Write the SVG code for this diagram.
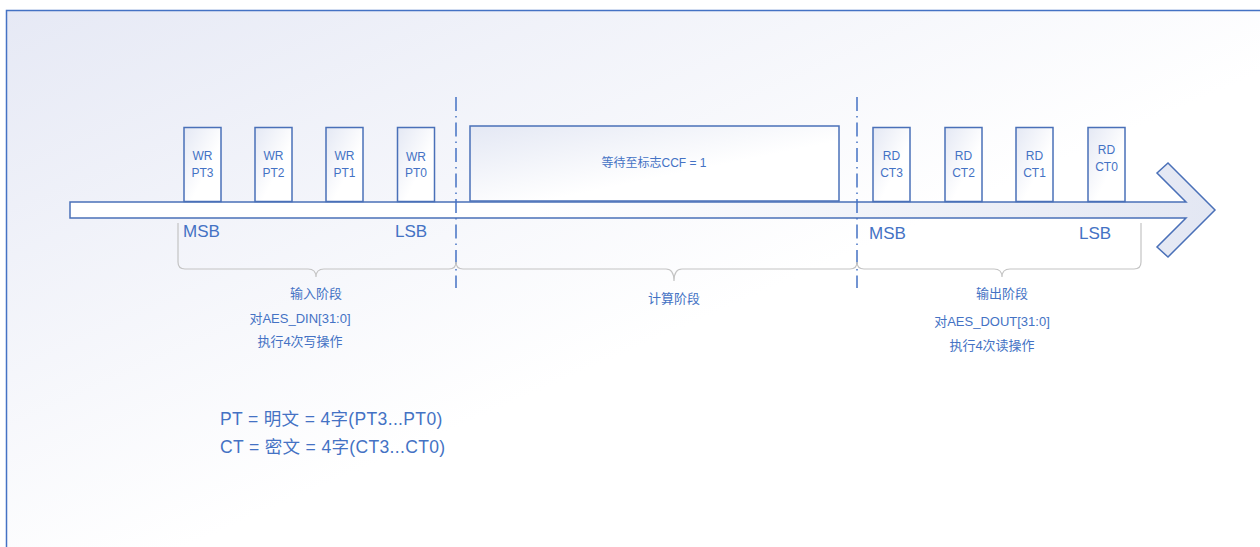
<svg xmlns="http://www.w3.org/2000/svg" width="1260" height="547" viewBox="0 0 1260 547">
<style>
.t{font-family:"Liberation Sans","Noto Sans CJK SC",sans-serif;fill:#4472C4;}
.bx{stroke:#4A70B8;stroke-width:1.5;fill:url(#boxg);}
.s12{font-size:12px;text-anchor:middle;}
.s13{font-size:13px;text-anchor:middle;}
.s17{font-size:17px;}
.lg{font-size:17.5px;letter-spacing:0.35px;}
.brace{fill:none;stroke:#C4C4C4;stroke-width:1.2;}
.dash{stroke:#4472C4;stroke-width:1.5;stroke-dasharray:14 5 1.5 5;fill:none;}
</style>
<defs>
<linearGradient id="bg" x1="0" y1="0" x2="1" y2="1">
<stop offset="0" stop-color="#E6E9F5"/>
<stop offset="0.55" stop-color="#FFFFFF"/>
<stop offset="1" stop-color="#FFFFFF"/>
</linearGradient>
<linearGradient id="boxg" x1="0" y1="0" x2="1" y2="1">
<stop offset="0" stop-color="#E4E8F4"/>
<stop offset="0.6" stop-color="#FFFFFF"/>
</linearGradient>
<linearGradient id="arrg" x1="70" y1="0" x2="1215" y2="0" gradientUnits="userSpaceOnUse">
<stop offset="0" stop-color="#FFFFFF"/>
<stop offset="0.4" stop-color="#FFFFFF"/>
<stop offset="1" stop-color="#E3E7F3"/>
</linearGradient>
</defs>
<rect x="6.5" y="10.5" width="1270" height="560" fill="url(#bg)" stroke="#4472C4" stroke-width="1.5"/>
<g id="timeline">
<polygon points="70,202 1186,202 1157,173 1168,163 1215,210 1168,257 1157,247 1186,218 70,218" fill="url(#arrg)" stroke="#4A70B8" stroke-width="1.5"/>
</g>
<g id="connectors">
<line class="dash" x1="456" y1="97" x2="456" y2="288"/>
<line class="dash" x1="857" y1="97" x2="857" y2="288"/>
<path class="brace" d="M178,223 V262 Q178,269 185,269 H308 Q316,269 316,277 Q316,269 324,269 H449 Q456,269 456,262"/>
<path class="brace" d="M456,262 Q456,269 463,269 H666 Q674,269 674,281 Q674,269 682,269 H850 Q857,269 857,262"/>
<path class="brace" d="M857,262 Q857,269 864,269 H994 Q1002,269 1002,277 Q1002,269 1010,269 H1134 Q1141,269 1141,262 V223"/>
</g>
<g id="wr-pt3"><rect class="bx" x="184" y="127.5" width="37" height="74"/><text class="t s12" x="202.5" y="160">WR</text><text class="t s12" x="202.5" y="177">PT3</text></g>
<g id="wr-pt2"><rect class="bx" x="255" y="127.5" width="37" height="74"/><text class="t s12" x="273.5" y="160">WR</text><text class="t s12" x="273.5" y="177">PT2</text></g>
<g id="wr-pt1"><rect class="bx" x="326" y="127.5" width="37" height="74"/><text class="t s12" x="344.5" y="160">WR</text><text class="t s12" x="344.5" y="177">PT1</text></g>
<g id="wr-pt0"><rect class="bx" x="397.5" y="127.5" width="37" height="74"/><text class="t s12" x="416" y="161">WR</text><text class="t s12" x="416" y="177">PT0</text></g>
<g id="wait"><rect class="bx" x="470" y="126" width="369" height="75"/><text class="t s12" x="654" y="167">等待至标志CCF = 1</text></g>
<g id="rd-ct3"><rect class="bx" x="873" y="127.5" width="37" height="74"/><text class="t s12" x="891.5" y="160">RD</text><text class="t s12" x="891.5" y="177">CT3</text></g>
<g id="rd-ct2"><rect class="bx" x="945" y="127.5" width="37" height="74"/><text class="t s12" x="963.5" y="160">RD</text><text class="t s12" x="963.5" y="177">CT2</text></g>
<g id="rd-ct1"><rect class="bx" x="1016" y="127.5" width="37" height="74"/><text class="t s12" x="1034.5" y="160">RD</text><text class="t s12" x="1034.5" y="177">CT1</text></g>
<g id="rd-ct0"><rect class="bx" x="1088" y="127.5" width="37" height="74"/><text class="t s12" x="1106.5" y="154">RD</text><text class="t s12" x="1106.5" y="171">CT0</text></g>
<g id="labels">
<text class="t s17" x="183" y="237">MSB</text>
<text class="t s17" x="395" y="237">LSB</text>
<text class="t s17" x="869" y="239">MSB</text>
<text class="t s17" x="1079" y="239">LSB</text>
<text class="t s13" x="316" y="298">输入阶段</text>
<text class="t s13" x="300" y="323">对AES_DIN[31:0]</text>
<text class="t s13" x="300" y="346">执行4次写操作</text>
<text class="t s13" x="674" y="303">计算阶段</text>
<text class="t s13" x="1002" y="298">输出阶段</text>
<text class="t s13" x="992" y="326">对AES_DOUT[31:0]</text>
<text class="t s13" x="992" y="350">执行4次读操作</text>
<text class="t lg" x="220" y="425">PT = 明文 = 4字(PT3...PT0)</text>
<text class="t lg" x="220" y="453">CT = 密文 = 4字(CT3...CT0)</text>
</g>
</svg>
